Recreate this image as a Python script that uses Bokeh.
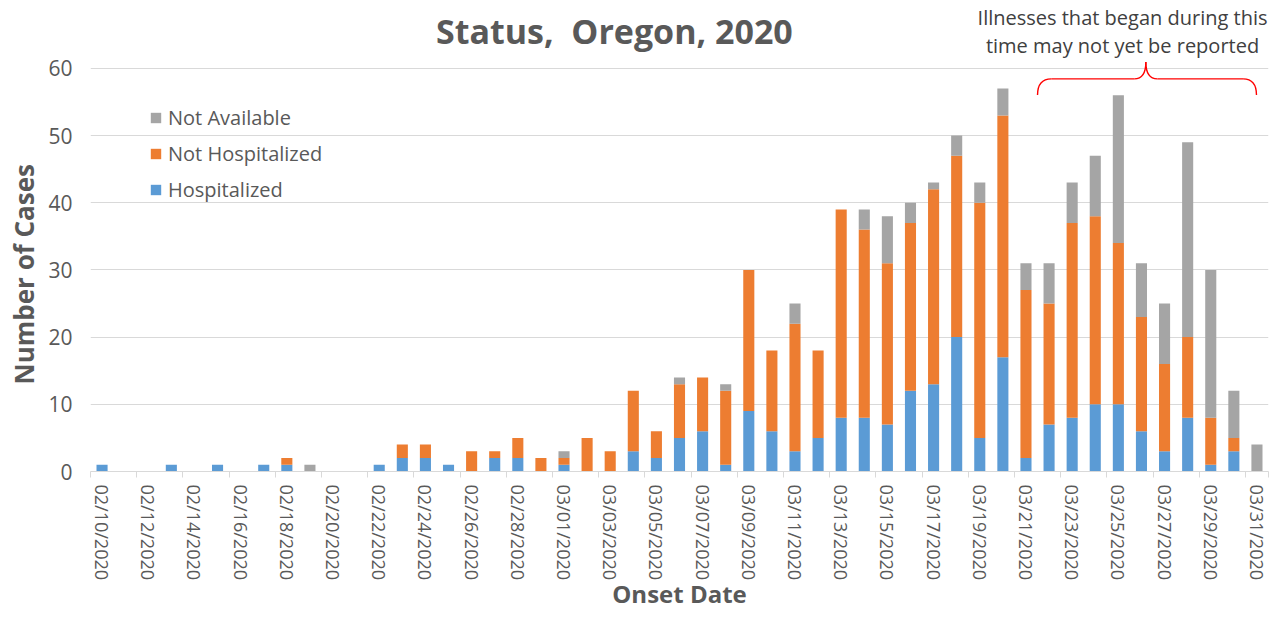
import math
from bokeh.plotting import figure
from bokeh.models import ColumnDataSource, Range1d, FixedTicker, Legend, LegendItem, Label, Title
from bokeh.embed import file_html
from bokeh.resources import INLINE

# ---------------- data ----------------
dates = [
    "02/10/2020", "02/11/2020", "02/12/2020", "02/13/2020", "02/14/2020",
    "02/15/2020", "02/16/2020", "02/17/2020", "02/18/2020", "02/19/2020",
    "02/20/2020", "02/21/2020", "02/22/2020", "02/23/2020", "02/24/2020",
    "02/25/2020", "02/26/2020", "02/27/2020", "02/28/2020", "02/29/2020",
    "03/01/2020", "03/02/2020", "03/03/2020", "03/04/2020", "03/05/2020",
    "03/06/2020", "03/07/2020", "03/08/2020", "03/09/2020", "03/10/2020",
    "03/11/2020", "03/12/2020", "03/13/2020", "03/14/2020", "03/15/2020",
    "03/16/2020", "03/17/2020", "03/18/2020", "03/19/2020", "03/20/2020",
    "03/21/2020", "03/22/2020", "03/23/2020", "03/24/2020", "03/25/2020",
    "03/26/2020", "03/27/2020", "03/28/2020", "03/29/2020", "03/30/2020",
    "03/31/2020",
]
hospitalized = [1, 0, 0, 1, 0, 1, 0, 1, 1, 0,
                0, 0, 1, 2, 2, 1, 0, 2, 2, 0,
                1, 0, 0, 3, 2, 5, 6, 1, 9, 6,
                3, 5, 8, 8, 7, 12, 13, 20, 5, 17,
                2, 7, 8, 10, 10, 6, 3, 8, 1, 3,
                0]
not_hospitalized = [0, 0, 0, 0, 0, 0, 0, 0, 1, 0,
                    0, 0, 0, 2, 2, 0, 3, 1, 3, 2,
                    1, 5, 3, 9, 4, 8, 8, 11, 21, 12,
                    19, 13, 31, 28, 24, 25, 29, 27, 35, 36,
                    25, 18, 29, 28, 24, 17, 13, 12, 7, 2,
                    0]
not_available = [0, 0, 0, 0, 0, 0, 0, 0, 0, 1,
                 0, 0, 0, 0, 0, 0, 0, 0, 0, 0,
                 1, 0, 0, 0, 0, 1, 0, 1, 0, 0,
                 3, 0, 0, 3, 7, 3, 1, 3, 3, 4,
                 4, 6, 6, 9, 22, 8, 9, 29, 22, 7,
                 4]
series_names = ["Hospitalized", "Not Hospitalized", "Not Available"]
y_ticks = [0, 10, 20, 30, 40, 50, 60]

title_text = "Status,\u00a0 Oregon, 2020"
note_lines = ["Illnesses that began during this", "time may not yet be reported"]

# ---------------- style ----------------
BLUE, ORANGE, GREY = "#5B9BD5", "#ED7D31", "#A5A5A5"
TEXT = "#595959"
GRIDC = "#D9D9D9"
FONT = "Open Sans"

idx = list(range(len(dates)))
source = ColumnDataSource(dict(x=idx, h=hospitalized, nh=not_hospitalized, na=not_available))

p = figure(width=1269, height=613, output_backend="svg", toolbar_location=None,
           x_range=Range1d(-0.5, len(dates) - 0.5), y_range=Range1d(0, 70.1),
           min_border_left=90, min_border_right=1, min_border_top=0, min_border_bottom=141)
p.outline_line_color = None
p.background_fill_color = "white"

rs = p.vbar_stack(["h", "nh", "na"], x="x", width=0.48, source=source,
                  fill_color=[BLUE, ORANGE, GREY], line_color=None)

# x axis
xa = p.xaxis[0]
even = idx[::2]
xa.ticker = FixedTicker(ticks=even, minor_ticks=[i - 0.5 for i in even] + [len(dates) - 0.5])
xa.major_label_overrides = {i: dates[i] for i in even}
xa.major_label_orientation = "vertical"
xa.major_tick_line_color = None
xa.major_tick_out = 0
xa.major_tick_in = 0
xa.minor_tick_line_color = GRIDC
xa.minor_tick_out = 6
xa.minor_tick_in = 0
xa.axis_line_color = GRIDC
xa.major_label_text_font = FONT
xa.major_label_text_font_size = "18px"
xa.major_label_text_color = TEXT
xa.major_label_standoff = 7
xa.axis_label = "Onset Date"
xa.axis_label_text_font = FONT
xa.axis_label_text_font_style = "bold"
xa.axis_label_text_font_size = "24px"
xa.axis_label_text_color = TEXT
xa.axis_label_standoff = -6

# y axis
ya = p.yaxis[0]
ya.ticker = FixedTicker(ticks=y_ticks)
ya.axis_line_color = None
ya.major_tick_line_color = None
ya.minor_tick_line_color = None
ya.major_tick_out = 0
ya.major_tick_in = 0
ya.major_label_standoff = 18
ya.major_label_text_font = FONT
ya.major_label_text_font_size = "21px"
ya.major_label_text_color = TEXT

p.add_layout(Title(text="Number of Cases", align="left", offset=87, vertical_align="top",
                   text_font=FONT, text_font_style="bold", text_font_size="26px",
                   text_color=TEXT, standoff=4), "left")

p.xgrid.visible = False
p.ygrid.grid_line_color = GRIDC
p.ygrid.grid_line_width = 1

# legend
legend = Legend(items=[LegendItem(label=series_names[2], renderers=[rs[2]]),
                       LegendItem(label=series_names[1], renderers=[rs[1]]),
                       LegendItem(label=series_names[0], renderers=[rs[0]])],
                location=(59, 268), padding=0, margin=0, spacing=9,
                glyph_width=13, glyph_height=13, label_height=20, label_standoff=6,
                label_text_font=FONT, label_text_font_size="20px", label_text_color=TEXT,
                border_line_color=None, background_fill_alpha=0)
p.add_layout(legend)

# chart title (second line of the original title)
p.add_layout(Label(x=22.18, y=65.5, text=title_text, text_font=FONT, text_font_style="bold",
                   text_font_size="34px", text_color=TEXT, text_align="center",
                   text_baseline="middle"))

# note and brace
p.add_layout(Label(x=44.18, y=67.5, text=note_lines[0], text_font=FONT, text_font_size="20px",
                   text_color="#404040", text_align="center", text_baseline="middle"))
p.add_layout(Label(x=44.18, y=63.34, text=note_lines[1], text_font=FONT, text_font_size="20px",
                   text_color="#404040", text_align="center", text_baseline="middle"))

RED = "#FF0000"
p.quadratic(x0=[40.50, 44.69, 45.19, 49.40], y0=[56.02, 58.44, 60.95, 58.44],
            x1=[41.10, 45.19, 45.69, 49.98], y1=[58.44, 60.95, 58.44, 56.02],
            cx=[40.50, 45.19, 45.19, 49.98], cy=[58.44, 58.44, 58.44, 58.44],
            line_color=RED, line_width=1.4)
p.segment(x0=[41.10, 45.69], y0=[58.44, 58.44], x1=[44.69, 49.40], y1=[58.44, 58.44],
          line_color=RED, line_width=1.4)

open("out.html", "w").write(file_html(p, INLINE))
